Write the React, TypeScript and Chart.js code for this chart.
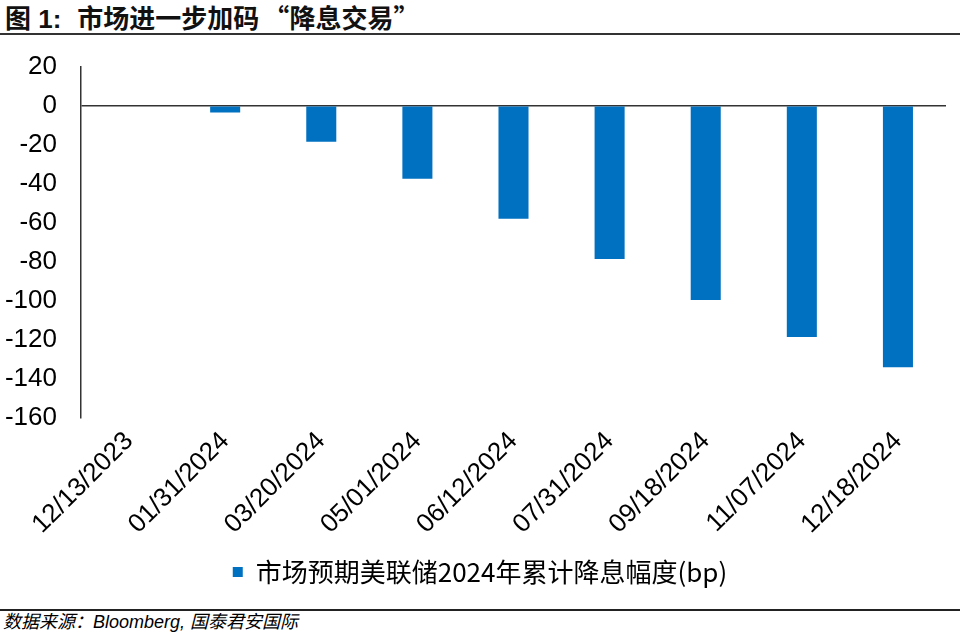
import React, { useEffect, useRef } from "react";
import { Chart, registerables } from "chart.js";

Chart.register(...registerables);

const categories = [
  "12/13/2023",
  "01/31/2024",
  "03/20/2024",
  "05/01/2024",
  "06/12/2024",
  "07/31/2024",
  "09/18/2024",
  "11/07/2024",
  "12/18/2024",
];
const cutValues = [0, -3.5, -18.5, -37.5, -58, -78.5, -99.5, -118.5, -134];
const seriesName = "市场预期美联储2024年累计降息幅度(bp)";
const yMin = -160;
const yMax = 20;
const yStep = 20;
const titleLabel = "图 1:";
const titleMain = "市场进一步加码";
const titleQuoted = "降息交易";
const sourceText = "数据来源：Bloomberg, 国泰君安国际";

const legendShift = {
  id: "legendShift",
  afterLayout(chart: any) {
    const lg = chart.legend;
    if (lg) {
      lg.left += 7;
      lg.right += 7;
    }
  },
};

export default function App() {
  const ref = useRef<HTMLCanvasElement | null>(null);

  useEffect(() => {
    document.body.style.margin = "0";
    if (!ref.current) return;
    const chart = new Chart(ref.current, {
      type: "bar",
      data: {
        labels: categories,
        datasets: [
          {
            label: seriesName,
            data: cutValues,
            backgroundColor: "#0070C0",
            borderWidth: 0,
            barPercentage: 0.3125,
            categoryPercentage: 1,
          },
        ],
      },
      plugins: [legendShift],
      options: {
        animation: false,
        responsive: false,
        maintainAspectRatio: false,
        layout: { padding: { top: 0, right: 14, left: 0, bottom: 0 } },
        plugins: {
          tooltip: { enabled: false },
          legend: {
            position: "bottom",
            labels: {
              boxWidth: 10,
              boxHeight: 10,
              padding: 10,
              color: "#000",
              font: { family: "'Noto Sans CJK SC', 'Liberation Sans'", size: 26 },
            },
          },
        },
        scales: {
          x: {
            grid: { display: false },
            border: { display: false },
            ticks: {
              minRotation: 45,
              maxRotation: 45,
              padding: 0,
              color: "#000",
              font: { family: "'Liberation Sans', Arial", size: 26 },
            },
            afterFit: (scale: any) => {
              scale.height = 131;
            },
          },
          y: {
            min: yMin,
            max: yMax,
            ticks: {
              stepSize: yStep,
              padding: 24,
              color: "#000",
              font: { family: "'Liberation Sans', Arial", size: 26 },
            },
            grid: {
              drawTicks: false,
              lineWidth: 1.5,
              color: (ctx: any) => (ctx.tick && ctx.tick.value === 0 ? "#333" : "rgba(0,0,0,0)"),
            },
            border: { display: true, color: "#333", width: 1.5 },
            afterFit: (scale: any) => {
              scale.width = 81;
            },
          },
        },
      },
    });
    return () => chart.destroy();
  }, []);

  const cjk = "'Noto Sans CJK SC', sans-serif";

  return (
    <div
      style={{
        position: "absolute",
        left: 0,
        top: 0,
        width: 960,
        height: 635,
        background: "#fff",
        overflow: "hidden",
      }}
    >
      <div
        style={{
          position: "absolute",
          left: 5,
          top: 2,
          fontFamily: "'Liberation Sans', 'Noto Sans CJK SC', sans-serif",
          fontWeight: "bold",
          fontSize: 26,
          lineHeight: "30px",
          color: "#111",
          whiteSpace: "pre",
        }}
      >
        <span>{titleLabel}</span>
        <span style={{ marginLeft: 16 }}>{titleMain}</span>
        <span style={{ fontFamily: cjk, marginLeft: 4 }}>“</span>
        <span>{titleQuoted}</span>
        <span style={{ fontFamily: cjk }}>”</span>
      </div>
      <div
        style={{
          position: "absolute",
          left: 0,
          top: 33,
          width: 960,
          height: 2,
          background: "#333",
        }}
      />
      <canvas
        ref={ref}
        width={960}
        height={568}
        style={{ position: "absolute", left: 0, top: 27, width: 960, height: 568 }}
      />
      <div
        style={{
          position: "absolute",
          left: 0,
          top: 609,
          width: 960,
          height: 2,
          background: "#222",
        }}
      />
      <div
        style={{
          position: "absolute",
          left: 3,
          top: 612,
          fontFamily: "'Liberation Sans', 'Noto Sans CJK SC', sans-serif",
          fontStyle: "italic",
          fontSize: 18,
          lineHeight: "21px",
          color: "#000",
          whiteSpace: "pre",
        }}
      >
        {sourceText}
      </div>
    </div>
  );
}
